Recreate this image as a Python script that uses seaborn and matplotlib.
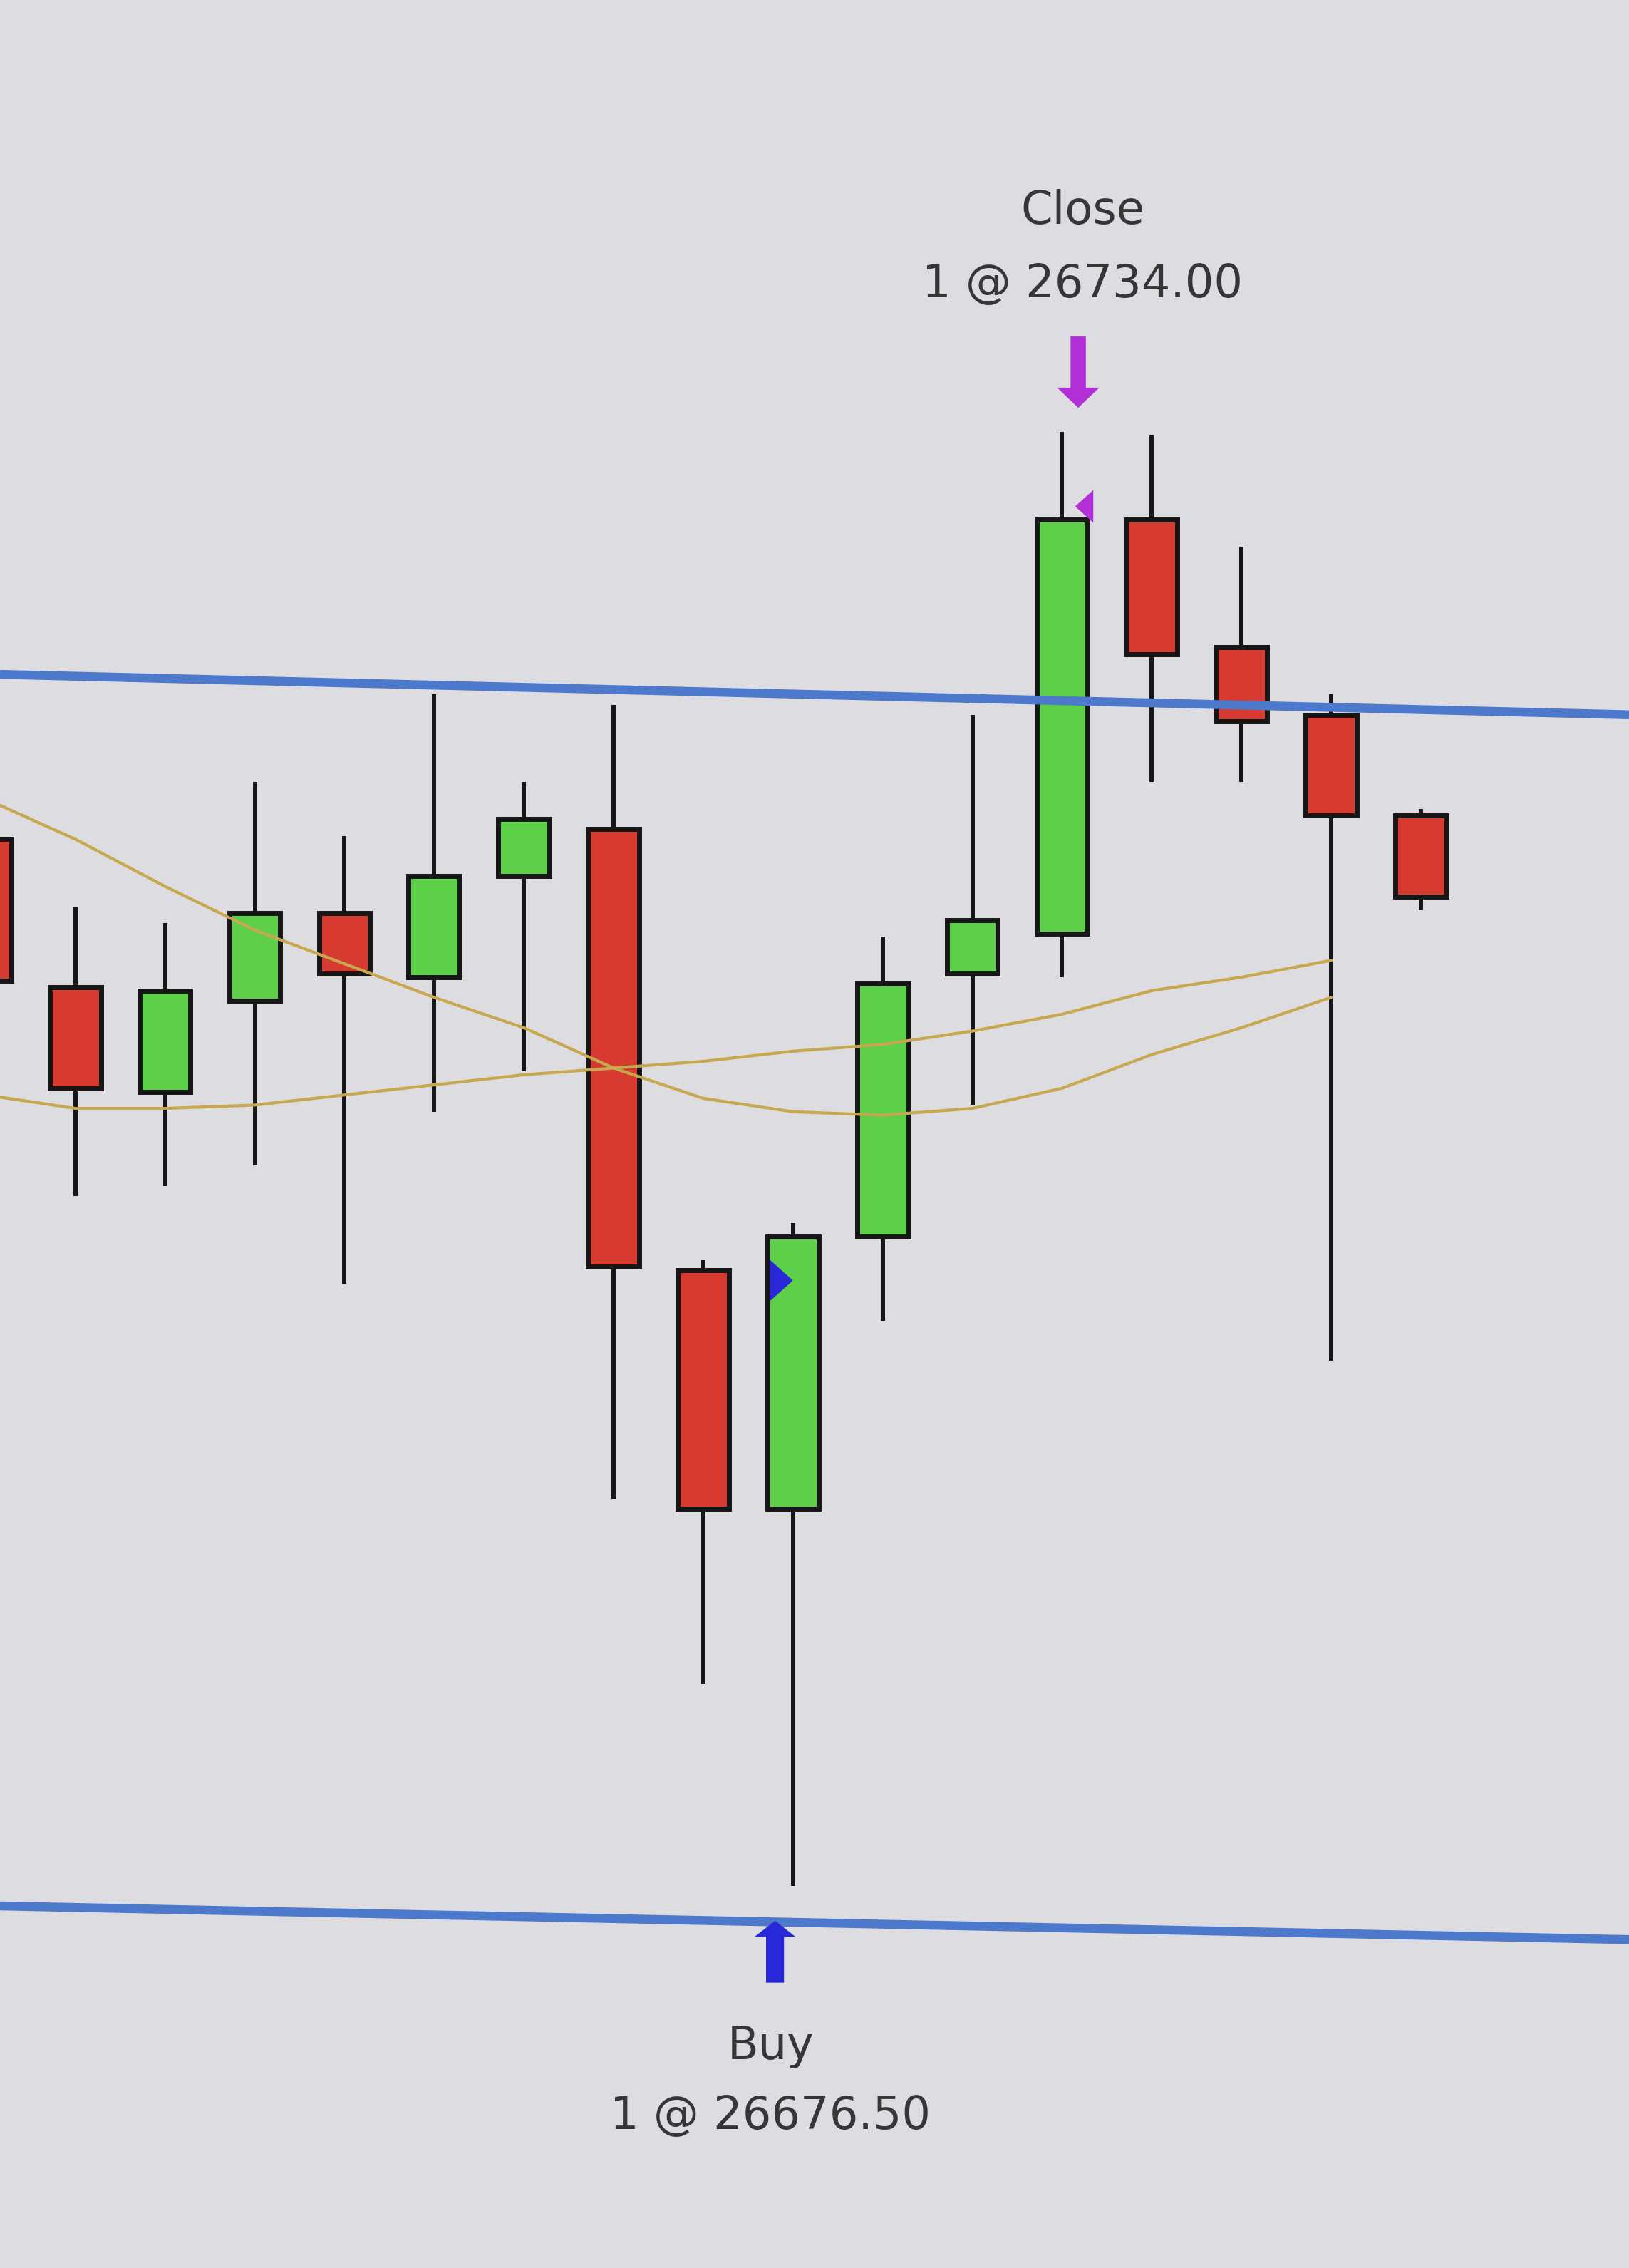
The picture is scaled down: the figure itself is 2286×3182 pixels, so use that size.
import numpy as np
import pandas as pd
import matplotlib.pyplot as plt
import seaborn as sns

# OHLC bars, bar 0 is the one cut off at the left edge
bars = list(range(17))
opens = [26709.25, 26698.25, 26690.5, 26697.25, 26703.75, 26699.0, 26706.5, 26710.0, 26677.25,
         26659.5, 26679.75, 26699.25, 26702.25, 26733.0, 26723.5, 26718.5, 26711.0]
highs = [26711.5, 26704.25, 26703.0, 26713.5, 26709.5, 26720.0, 26713.5, 26719.25, 26678.0,
         26680.75, 26702.0, 26718.5, 26739.5, 26739.25, 26731.0, 26720.0, 26711.5]
lows = [26696.5, 26682.75, 26683.5, 26685.0, 26676.25, 26689.0, 26692.0, 26660.25, 26646.5,
        26631.5, 26673.5, 26689.5, 26699.0, 26713.5, 26713.5, 26670.5, 26704.0]
closes = [26698.75, 26690.75, 26698.0, 26703.75, 26699.25, 26706.5, 26710.75, 26677.5, 26659.5,
          26679.75, 26698.5, 26703.25, 26733.0, 26723.0, 26718.0, 26711.0, 26705.0]

# two moving averages, plotted up to bar 15
ma_bars = list(range(16))
ma_fast = [26712.25, 26709.25, 26705.75, 26702.5, 26700.0, 26697.5, 26695.25, 26692.25,
           26690.0, 26689.0, 26688.75, 26689.25, 26690.75, 26693.25, 26695.25, 26697.5]
ma_slow = [26690.25, 26689.25, 26689.25, 26689.5, 26690.25, 26691.0, 26691.75, 26692.25,
           26692.75, 26693.5, 26694.0, 26695.0, 26696.25, 26698.0, 26699.0, 26700.25]

# horizontal levels, price at left / right edge (photo is a little tilted)
level_top = [26721.5, 26718.5]
level_bottom = [26630.0, 26627.5]

# executions
qty = 1
buy_bar, buy_price = 9, 26676.50
close_bar, close_price = 12, 26734.00

bg = "#dddce1"
edge = "#161616"
buy_color = "#2828d8"
close_color = "#b02fd6"
txt_color = "#363636"

sns.set_theme(style="white", rc={"axes.facecolor": bg, "figure.facecolor": bg})
plt.rcParams['font.family'] = ['DejaVu Sans']

fig = plt.figure(figsize=(22.86, 31.82), dpi=100)
ax = fig.add_axes([0, 0, 1, 1])
xlim = (0.16, 18.32)
ylim = (26603.1, 26771.6)

# candles
df = pd.DataFrame({"bar": bars, "open": opens, "high": highs, "low": lows, "close": closes})
up = df["close"] >= df["open"]
colors = np.where(up, "#5ecf48", "#d63a30")
ax.vlines(df["bar"], df["low"], df["high"], color=edge, lw=4.3, zorder=2)
ax.bar(df["bar"], (df["close"] - df["open"]).abs(), bottom=df[["open", "close"]].min(axis=1),
       width=0.57, color=colors, edgecolor=edge, linewidth=5, zorder=3)

# moving averages
ma = pd.DataFrame({"bar": ma_bars * 2, "value": ma_fast + ma_slow,
                   "line": ["fast"] * len(ma_bars) + ["slow"] * len(ma_bars)})
sns.lineplot(data=ma, x="bar", y="value", hue="line", palette=["#c8a84e", "#c8a84e"],
             lw=3, legend=False, ax=ax, zorder=4)

# blue levels
for lv in (level_top, level_bottom):
    ax.plot(xlim, lv, color="#4d79cc", lw=9, zorder=5, solid_capstyle="butt")

# execution triangles on the bars
tri_r = [(0.5, 0), (-0.5, 0.9), (-0.5, -0.9), (0.5, 0)]
tri_l = [(-0.5, 0), (0.5, 0.9), (0.5, -0.9), (-0.5, 0)]
ax.plot(buy_bar - 0.13, buy_price, marker=tri_r, ms=42, color=buy_color, mec=buy_color, mew=0, zorder=6)
ax.plot(close_bar + 0.24, close_price, marker=tri_l, ms=33, color=close_color, mec=close_color, mew=0, zorder=6)

# arrows below / above the bars
low = lows[buy_bar]
high = highs[close_bar]
ax.arrow(buy_bar - 0.2, low - 7.2, 0, 4.6, width=0.2, head_width=0.46, head_length=1.2,
         length_includes_head=True, color=buy_color, lw=0, zorder=6)
ax.arrow(close_bar + 0.18, high + 7.1, 0, -5.3, width=0.17, head_width=0.47, head_length=1.5,
         length_includes_head=True, color=close_color, lw=0, zorder=6)

# labels
ax.text(buy_bar - 0.25, low - 12.9, "Buy", ha="center", va="baseline", fontsize=46, color=txt_color)
ax.text(buy_bar - 0.25, low - 18.1, f"{qty} @ {buy_price:.2f}", ha="center", va="baseline",
        fontsize=46, color=txt_color)
ax.text(close_bar + 0.23, high + 15.45, "Close", ha="center", va="baseline", fontsize=46, color=txt_color)
ax.text(close_bar + 0.23, high + 10.0, f"{qty} @ {close_price:.2f}", ha="center", va="baseline",
        fontsize=46, color=txt_color)

ax.set_xlim(xlim)
ax.set_ylim(ylim)
ax.set_xticks([])
ax.set_yticks([])
ax.set_xlabel("")
ax.set_ylabel("")
for s in ax.spines.values():
    s.set_visible(False)

fig.savefig("out.png", dpi=100, facecolor=bg)
